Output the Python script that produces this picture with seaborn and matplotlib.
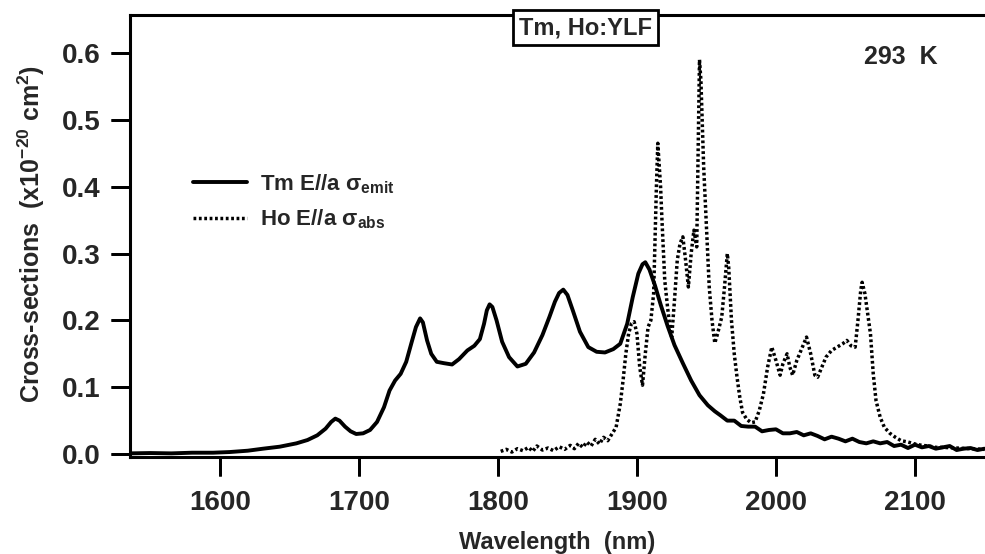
import numpy as np
import pandas as pd
import matplotlib
matplotlib.use("Agg")
import matplotlib.pyplot as plt
import matplotlib.transforms as mtransforms
import seaborn as sns

# ---------------- data ----------------
tm_wl = [1535, 1550, 1565, 1580, 1595, 1607, 1620, 1631, 1643, 1655, 1663, 1670, 1676, 1680,
         1683, 1686, 1690, 1694, 1698, 1703, 1708, 1713, 1718, 1722, 1726, 1730, 1734, 1738,
         1741, 1744, 1746, 1749, 1752, 1756, 1761, 1767, 1772, 1778, 1783, 1787, 1790, 1792,
         1794, 1796, 1799, 1803, 1808, 1814, 1820, 1826, 1832, 1837, 1841, 1844, 1847, 1850,
         1854, 1859, 1865, 1871, 1877, 1883, 1888, 1893, 1897, 1901, 1904, 1906, 1909, 1913,
         1917, 1922, 1927, 1933, 1939, 1945, 1951, 1956, 1960, 1965, 1970, 1975, 1980, 1985,
         1990, 1995, 2000, 2005, 2010, 2015, 2020, 2025, 2030, 2035, 2040, 2045, 2050, 2055,
         2060, 2065, 2070, 2075, 2080, 2085, 2090, 2095, 2100, 2105, 2110, 2115, 2120, 2125,
         2130, 2135, 2140, 2145, 2150]
tm_emit = [0.001, 0.0015, 0.001, 0.002, 0.002, 0.003, 0.005, 0.008, 0.011, 0.016, 0.021, 0.028,
           0.038, 0.048, 0.053, 0.050, 0.041, 0.034, 0.030, 0.031, 0.036, 0.048, 0.070, 0.095,
           0.110, 0.120, 0.138, 0.168, 0.190, 0.203, 0.197, 0.170, 0.150, 0.138, 0.136, 0.134,
           0.142, 0.155, 0.162, 0.172, 0.195, 0.215, 0.224, 0.220, 0.200, 0.168, 0.145, 0.131,
           0.135, 0.152, 0.178, 0.205, 0.228, 0.241, 0.246, 0.238, 0.214, 0.183, 0.160, 0.153,
           0.152, 0.157, 0.165, 0.195, 0.235, 0.270, 0.284, 0.287, 0.276, 0.252, 0.224, 0.192,
           0.163, 0.136, 0.110, 0.088, 0.073, 0.064, 0.058, 0.050, 0.050, 0.042, 0.041, 0.041,
           0.034, 0.036, 0.037, 0.031, 0.031, 0.033, 0.028, 0.031, 0.027, 0.022, 0.026, 0.023,
           0.019, 0.023, 0.018, 0.016, 0.019, 0.016, 0.018, 0.012, 0.014, 0.009, 0.014, 0.010,
           0.012, 0.008, 0.010, 0.012, 0.006, 0.008, 0.009, 0.006, 0.008]

ho_wl = [1802, 1806, 1810, 1814, 1818, 1822, 1825, 1828, 1832, 1836, 1840, 1844, 1848, 1852,
         1855, 1858, 1861, 1864, 1867, 1870, 1873, 1876, 1879, 1882, 1885, 1888, 1890, 1892,
         1894, 1896, 1898, 1900, 1902, 1904, 1906, 1908, 1910, 1912, 1914, 1915, 1917, 1918,
         1920, 1922, 1924, 1925, 1927, 1929, 1931, 1933, 1935, 1937, 1939, 1941, 1943, 1944,
         1945, 1946, 1948, 1950, 1952, 1954, 1956, 1958, 1961, 1963, 1965, 1966, 1968, 1970,
         1972, 1974, 1976, 1979, 1982, 1985, 1988, 1991, 1994, 1997, 2000, 2003, 2005, 2008,
         2010, 2012, 2015, 2019, 2022, 2025, 2028, 2030, 2033, 2036, 2040, 2044, 2048, 2051,
         2054, 2057, 2059, 2061, 2062, 2064, 2066, 2068, 2070, 2072, 2075, 2078, 2082, 2086,
         2090, 2095, 2100, 2105, 2110, 2115, 2120, 2130, 2140, 2150]
ho_abs = [0.004, 0.007, 0.003, 0.008, 0.005, 0.010, 0.004, 0.012, 0.006, 0.009, 0.005, 0.011,
          0.007, 0.013, 0.008, 0.016, 0.010, 0.018, 0.012, 0.022, 0.015, 0.025, 0.020, 0.030,
          0.040, 0.075, 0.110, 0.150, 0.180, 0.195, 0.198, 0.180, 0.130, 0.103, 0.150, 0.190,
          0.200, 0.240, 0.400, 0.465, 0.400, 0.350, 0.260, 0.220, 0.185, 0.175, 0.230, 0.290,
          0.315, 0.325, 0.290, 0.250, 0.300, 0.335, 0.310, 0.450, 0.590, 0.560, 0.430, 0.340,
          0.250, 0.200, 0.166, 0.180, 0.205, 0.250, 0.300, 0.280, 0.200, 0.150, 0.115, 0.085,
          0.062, 0.052, 0.047, 0.048, 0.065, 0.090, 0.130, 0.160, 0.140, 0.118, 0.135, 0.150,
          0.130, 0.118, 0.140, 0.160, 0.175, 0.150, 0.118, 0.115, 0.130, 0.145, 0.155, 0.160,
          0.165, 0.170, 0.162, 0.160, 0.200, 0.245, 0.257, 0.240, 0.210, 0.180, 0.120, 0.080,
          0.055, 0.040, 0.031, 0.025, 0.020, 0.018, 0.015, 0.013, 0.012, 0.010, 0.010, 0.009,
          0.008, 0.007]

x_ticks = [1600, 1700, 1800, 1900, 2000, 2100]
y_ticks = [0.0, 0.1, 0.2, 0.3, 0.4, 0.5, 0.6]

tm_label = "Tm E//a σ$_{\\mathrm{emit}}$"
ho_label = "Ho E//a σ$_{\\mathrm{abs}}$"

# ---------------- style ----------------
sns.set_style("ticks")
plt.rcParams["font.family"] = ["Liberation Sans", "DejaVu Sans"]
plt.rcParams["font.weight"] = "bold"
plt.rcParams["mathtext.fontset"] = "custom"
plt.rcParams["mathtext.rm"] = "Liberation Sans:bold"
plt.rcParams["mathtext.it"] = "Liberation Sans:bold"
plt.rcParams["mathtext.bf"] = "Liberation Sans:bold"

fig = plt.figure(figsize=(9.85, 5.54), dpi=100)
ax = fig.add_axes([0.132, 0.175, 0.868, 0.798])

df_tm = pd.DataFrame({"wl": tm_wl, "val": tm_emit})
df_ho = pd.DataFrame({"wl": ho_wl, "val": ho_abs})

sns.lineplot(data=df_tm, x="wl", y="val", ax=ax, color="black", lw=2.8,
             label=tm_label, sort=True, estimator=None)
sns.lineplot(data=df_ho, x="wl", y="val", ax=ax, color="black", lw=2.5,
             linestyle=(0, (0.8, 0.75)), label=ho_label, sort=True, estimator=None)

ax.set_xlim(1535.3, 2150.4)
ax.set_ylim(-0.0045, 0.657)
ax.set_xticks(x_ticks)
ax.set_yticks(y_ticks)
ax.set_xticklabels([str(v) for v in x_ticks])
ax.set_yticklabels([f"{v:.1f}" for v in y_ticks])

for side in ["left", "bottom", "top"]:
    ax.spines[side].set_linewidth(2.2)
    ax.spines[side].set_color("black")
ax.spines["right"].set_visible(False)

ax.set_xlabel("Wavelength  (nm)", fontsize=17, fontweight="bold")
ax.set_ylabel("Cross-sections  (x10$^{\\mathrm{-20}}$ cm$^{\\mathrm{2}}$)",
              fontsize=18, fontweight="bold")
ax.xaxis.set_label_coords(0.5, -0.168)
ax.yaxis.set_label_coords(-0.097, 0.505)

leg = ax.legend(loc="upper left", bbox_to_anchor=(0.074, 0.645), frameon=False,
                fontsize=16, handlelength=2.4, handletextpad=0.6, labelspacing=0.55,
                borderpad=0, borderaxespad=0)

ax.text(0.533, 0.971, "Tm, Ho:YLF", transform=ax.transAxes, ha="center", va="center",
        fontsize=17, fontweight="bold", zorder=10, clip_on=False,
        bbox=dict(boxstyle="square,pad=0.25", fc="white", ec="black", lw=2))
ax.text(0.902, 0.905, "293  K", transform=ax.transAxes, ha="center", va="center",
        fontsize=18, fontweight="bold")

ax.tick_params(axis="both", which="major", direction="out", length=14, width=2,
               color="black", labelsize=20, pad=7, bottom=True, left=True,
               top=False, right=False)
ax.tick_params(axis="x", pad=10)

# explicit tick marks (segments) at the tick positions, so they always show
bbox = ax.get_position()
fig_w_pt = fig.get_figwidth() * 72.0
fig_h_pt = fig.get_figheight() * 72.0
xlen = 14.0 / (bbox.height * fig_h_pt)
ylen = 14.0 / (bbox.width * fig_w_pt)
bx = mtransforms.blended_transform_factory(ax.transData, ax.transAxes)
by = mtransforms.blended_transform_factory(ax.transAxes, ax.transData)
ax.vlines(x_ticks, -xlen, 0, transform=bx, colors="black", linewidths=2,
          clip_on=False, zorder=5)
ax.hlines(y_ticks, -ylen, 0, transform=by, colors="black", linewidths=2,
          clip_on=False, zorder=5)

fig.savefig("out.png", dpi=100)
